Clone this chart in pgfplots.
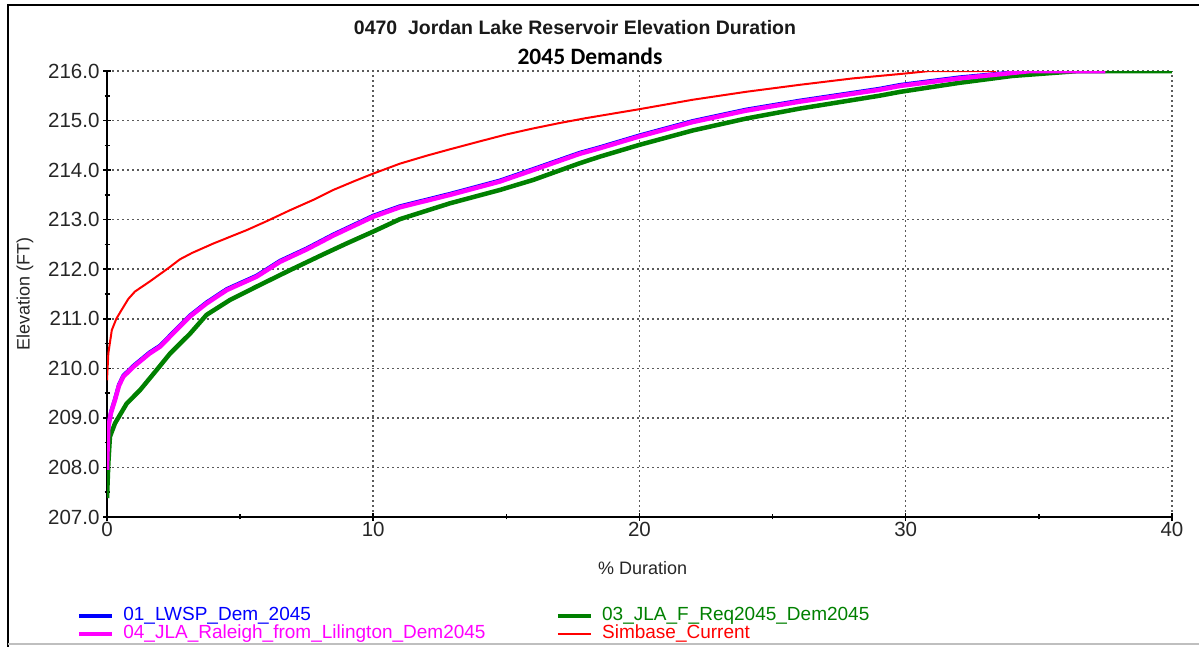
\documentclass[border=0pt]{standalone}
\usepackage{fontspec}
\setmainfont{Liberation Sans}
\newfontfamily\calibri{Carlito}
\usepackage{pgfplots}
\pgfplotsset{compat=1.18}

\definecolor{sgreen}{RGB}{0,128,0}
\definecolor{smag}{RGB}{255,0,255}
\definecolor{sblue}{RGB}{0,0,255}
\definecolor{sred}{RGB}{255,0,0}
\definecolor{gridc}{RGB}{90,90,90}

\pgfplotstableread{
x y
0 209.76
0.05 210.3
0.18 210.77
0.35 211.0
0.55 211.18
0.8 211.4
1.05 211.55
1.6 211.75
2.3 212.02
2.74 212.2
3.2 212.33
4.0 212.52
5.25 212.79
6.0 212.97
6.87 213.19
7.75 213.4
8.5 213.6
9.3 213.78
10 213.93
11 214.13
12 214.29
12.88 214.42
14 214.58
15 214.72
16 214.84
17 214.95
18 215.05
20 215.23
22 215.42
24 215.58
26 215.72
28 215.85
29.8 215.94
30.9 216
33.4 216
}\simbase

\pgfplotstableread{
x y
0 207.95
0.02 208.35
0.05 208.82
0.15 209.1
0.3 209.36
0.45 209.65
0.61 209.83
0.99 210.03
1.6 210.3
2.0 210.44
2.6 210.77
3.1 211.04
3.74 211.31
4.5 211.58
5.62 211.85
6.5 212.15
7.5 212.4
8.5 212.68
10 213.06
11 213.25
12.88 213.5
14.76 213.77
16 214.0
17.76 214.33
18.5 214.44
20 214.68
22 214.97
24 215.2
26 215.38
29 215.62
29.8 215.7
32 215.85
34.7 216
37.5 216
}\raleigh

\pgfplotstableread{
x y
0 207.97
0.02 208.37
0.05 208.84
0.15 209.12
0.3 209.38
0.45 209.67
0.61 209.85
0.99 210.05
1.6 210.32
2.0 210.46
2.6 210.79
3.1 211.06
3.74 211.33
4.5 211.60
5.62 211.87
6.5 212.17
7.5 212.42
8.5 212.70
10 213.08
11 213.27
12.88 213.52
14.76 213.79
16 214.02
17.76 214.35
18.5 214.46
20 214.70
22 214.99
24 215.22
26 215.40
29 215.64
29.8 215.72
32 215.87
34.6 216
37.5 216
}\lwsp

\pgfplotstableread{
x y
0 207.38
0.05 208.08
0.11 208.62
0.3 208.89
0.74 209.29
1.24 209.56
1.87 209.97
2.37 210.3
3.12 210.7
3.74 211.08
4.62 211.38
5.62 211.65
6.87 211.98
8.12 212.3
9 212.52
10 212.76
11 213.01
12.88 213.33
14.76 213.6
16 213.8
17.76 214.14
18.5 214.27
20 214.51
22 214.8
24 215.04
26 215.24
29 215.5
29.8 215.58
32 215.76
34 215.9
36.5 216
40 216
}\jlaf

\begin{document}
\begin{tikzpicture}[x=1pt,y=1pt]
\path[use as bounding box] (0,0) rectangle (1199,647);
\draw[black, line width=2.5pt] (8,0) -- (8,642) -- (1199,642);
\draw[gray!50, line width=1.5pt] (8,3) -- (1199,3);
\node[font=\fontsize{19.5}{22}\selectfont\bfseries, text=black!90] at (575,619) {0470\ \ Jordan Lake Reservoir Elevation Duration};
\node[font=\calibri\fontsize{23.5}{26}\selectfont\bfseries] at (590,591) {2045 Demands};
\begin{axis}[
  at={(107pt,130pt)}, anchor=south west,
  scale only axis, width=1065pt, height=446pt,
  xmin=0, xmax=40, ymin=207, ymax=216,
  axis lines=left, axis line style={-, line width=2pt, black},
  xtick={0,10,20,30,40}, minor x tick num=1,
  ytick={207,208,...,216}, minor y tick num=1,
  tick align=center, major tick length=8pt, minor tick length=5pt,
  tick style={black, line width=1.5pt},
  grid=major,
  major grid style={gridc, line width=1.5pt, dash pattern=on 2pt off 3pt},
  /pgf/number format/assume math mode=true,
  yticklabel style={/pgf/number format/.cd, fixed, fixed zerofill, precision=1},
  ticklabel style={font=\fontsize{20.5}{22}\selectfont, text=black!85},
  xticklabel style={yshift=2pt},
  xlabel={\% Duration}, ylabel={Elevation (FT)},
  label style={font=\fontsize{18}{20}\selectfont, text=black!85},
  xlabel style={at={(axis description cs:0.503,-0.115)}, anchor=center},
  ylabel style={at={(axis description cs:-0.077,0.5)}, anchor=center},
  legend columns=2,
  legend cell align=left,
  legend style={draw=none, fill=none, at={(axis description cs:-0.0285,-0.203)}, anchor=north west,
    font=\fontsize{19}{20}\selectfont, row sep=1pt, inner sep=0pt,
    nodes={inner xsep=4pt, inner ysep=0pt, text height=13pt, text depth=4pt},
    /tikz/every even column/.append style={column sep=66pt},
    /tikz/every odd column/.append style={column sep=5pt}},
  legend image code/.code={\draw[#1] (0pt,0pt) -- (33pt,0pt);},
]
\addplot[sblue, line width=4pt, line join=round] table[x=x,y=y] {\lwsp};
\addlegendentry{\textcolor{sblue}{01\_LWSP\_Dem\_2045}}
\addplot[sgreen, line width=4.5pt, line join=round] table[x=x,y=y] {\jlaf};
\addlegendentry{\textcolor{sgreen}{03\_JLA\_F\_Req2045\_Dem2045}}
\addplot[smag, line width=4.5pt, line join=round] table[x=x,y=y] {\raleigh};
\addlegendentry{\textcolor{smag}{04\_JLA\_Raleigh\_from\_Lilington\_Dem2045}}
\addplot[sred, line width=2pt, line join=round] table[x=x,y=y] {\simbase};
\addlegendentry{\textcolor{sred}{Simbase\_Current}}
\end{axis}
\end{tikzpicture}
\end{document}
